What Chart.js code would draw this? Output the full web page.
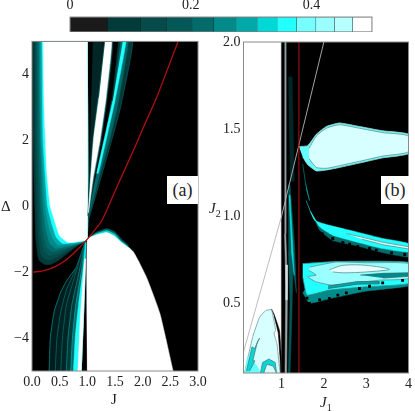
<!DOCTYPE html>
<html>
<head>
<meta charset="utf-8">
<script src="https://cdn.jsdelivr.net/npm/chart.js@4"></script>
<style>
  body { margin: 0; background: #fff; font-family: "Liberation Serif", serif; color: #222; }
  canvas { position: absolute; }
  .label { position: absolute; font-size: 15px; line-height: 16px; }
  .tag { position: absolute; background: #fff; font-size: 18px; text-align: center; line-height: 28px; width: 31px; height: 28px; top: 176px; }
  sub { font-size: 10px; line-height: 0; }
</style>
</head>
<body>
<canvas id="bar-canvas" style="left:60px;top:0"></canvas>
<canvas id="a-canvas" style="left:0;top:30px"></canvas>
<canvas id="b-canvas" style="left:212px;top:30px"></canvas>
<div class="label" style="left:1px;top:198px">Δ</div>
<div class="label" style="left:111px;top:391px">J</div>
<div class="label" style="left:209px;top:200px"><i>J</i><sub>2</sub></div>
<div class="label" style="left:320px;top:394px"><i>J</i><sub>1</sub></div>
<div class="tag" style="left:167px">(a)</div>
<div class="tag" style="left:381px;width:28px">(b)</div>
<script>
Chart.defaults.font.family = "'Liberation Serif', serif";

// Colour scale
const levelEdges = [0, 0.0625, 0.117, 0.16, 0.202, 0.238, 0.275, 0.31, 0.343, 0.375, 0.407, 0.438, 0.468, 0.5];
const levelColors = ["#1a1a1a", "#033a3a", "#064a4a", "#055858", "#046b6b", "#018a8a", "#00a8a8", "#00d8d8", "#22ffff", "#77ffff", "#99ffff", "#b8ffff", "#ffffff"];
const barTicks = [0, 0.2, 0.4];

// Tick labels
const jTicks = [0, 0.5, 1, 1.5, 2, 2.5, 3];
const deltaTicks = [-4, -2, 0, 2, 4];
const j1Ticks = [1, 2, 3, 4];
const j2Ticks = [0.5, 1, 1.5, 2];

// Panel (a): contours of the left band, outer to inner, [J, Delta]
const bandA1 = [[0.01,5],[0.02,2],[0.05,0],[0.07,-1],[0.12,-1.62],[0.22,-1.76],[0.35,-1.76],[0.5,-1.62],[0.65,-1.42],[0.82,-1.2],[1,-1],[1,5]];
const bandA2 = [[0.05,5],[0.06,2],[0.09,0],[0.12,-1],[0.17,-1.5],[0.27,-1.63],[0.4,-1.6],[0.55,-1.46],[0.7,-1.32],[0.85,-1.16],[1,-1],[1,5]];
const bandA3 = [[0.08,5],[0.09,2],[0.13,0],[0.16,-0.9],[0.22,-1.38],[0.32,-1.5],[0.45,-1.46],[0.6,-1.34],[0.75,-1.22],[0.88,-1.12],[1,-1],[1,5]];
const bandA4 = [[0.1,5],[0.12,2],[0.16,0],[0.2,-0.8],[0.27,-1.26],[0.37,-1.38],[0.5,-1.34],[0.65,-1.26],[0.8,-1.17],[1,-1],[1,5]];
const bandA5 = [[0.13,5],[0.15,2],[0.2,0],[0.25,-0.7],[0.32,-1.12],[0.42,-1.28],[0.55,-1.25],[0.7,-1.2],[0.85,-1.13],[1,-1],[1,5]];
const bandA6 = [[0.15,5],[0.17,2],[0.24,0],[0.3,-0.6],[0.38,-1.0],[0.47,-1.18],[0.6,-1.17],[0.75,-1.15],[0.88,-1.1],[1,-1],[1,5]];
const bandA7 = [[0.18,5],[0.2,2],[0.28,0],[0.36,-0.55],[0.44,-0.95],[0.55,-1.13],[0.7,-1.12],[0.85,-1.08],[1,-1],[1,5]];
const whiteA = [[0.2,5],[0.22,3],[0.27,1],[0.33,0],[0.42,-0.5],[0.5,-0.9],[0.65,-1.1],[0.85,-1.07],[1,-1],[1,5]];

// Panel (a): fan above J = 1
const wedgeDark = [[1.1,5],[1.28,5],[1.05,1],[1.01,-0.3]];
const wedgeOuter = [[1.56,5],[1.82,5],[1.6,3],[1.44,2],[1.2,0.6],[1.02,-0.4],[1.12,0.6],[1.32,2],[1.44,3.2]];
const wedgeMid = [[1.6,5],[1.74,5],[1.54,3],[1.4,2],[1.2,0.8],[1.03,-0.3],[1.15,0.8],[1.33,2],[1.46,3.2]];
const wedgeCyan = [[1.64,5],[1.7,5],[1.5,3.2],[1.38,2.3],[1.2,1],[1.17,1],[1.34,2.3],[1.46,3.2]];
const wedgeHalo = [[1.3,5],[1.46,5],[1.36,3.3],[1.25,2],[1.12,0.8],[1.02,-0.3],[1.04,0.6],[1.1,2],[1.19,3.3]];
const wedgeWhite = [[1.32,5],[1.44,5],[1.34,3.3],[1.23,2],[1.1,0.8],[1.02,-0.2],[1.05,0.6],[1.11,2],[1.21,3.3]];

// Panel (a): fan below J = 1
const fanA1 = [[0.31,-5],[0.33,-4],[0.4,-3.2],[0.52,-2.6],[0.63,-2.25],[0.82,-1.8],[0.97,-1.1],[0.89,-5]];
const fanA2 = [[0.42,-5],[0.45,-4],[0.52,-3.2],[0.62,-2.55],[0.78,-1.95],[0.97,-1.1],[0.89,-5]];
const fanA3 = [[0.52,-5],[0.55,-4],[0.62,-3],[0.76,-2.2],[0.97,-1.1],[0.89,-5]];
const fanA4 = [[0.62,-5],[0.65,-4],[0.72,-3],[0.85,-2],[0.97,-1.1],[0.89,-5]];
const fanTeal = [[0.7,-5],[0.73,-4],[0.79,-3],[0.9,-1.9],[0.97,-1.1],[0.89,-5]];
const fanCyan = [[0.75,-5],[0.78,-4],[0.84,-3],[0.93,-1.8],[0.97,-1.1],[0.93,-3],[0.89,-5]];
const fanWhite = [[0.83,-5],[0.87,-3.5],[0.95,-1.6],[0.97,-1.6],[0.93,-3.5],[0.89,-5]];

// Panel (a): white dome below the red curve
const domeHalo = [[1,-1],[1.15,-0.8],[1.35,-0.68],[1.5,-0.78],[1.62,-1.0],[1.75,-1.2],[1.6,-1.2],[1,-1.2]];
const domeCyan = [[1,-1],[1.15,-0.84],[1.35,-0.74],[1.5,-0.85],[1.6,-1.04],[1.78,-1.3],[1.6,-1.3],[1,-1.3]];
const domeWhite = [[1,-5],[1,-1],[1.15,-0.88],[1.35,-0.8],[1.5,-0.92],[1.6,-1.08],[1.83,-1.38],[2.07,-2.16],[2.31,-3.25],[2.55,-5]];
const redCurve = [[0.02,-2],[0.2,-1.96],[0.4,-1.85],[0.6,-1.65],[0.8,-1.35],[1,-1],[1.12,-0.75],[1.26,-0.44],[1.53,0.57],[1.83,1.68],[2.01,2.38],[2.25,3.29],[2.64,5]];

// Panel (b): left white area and lens, [J1, J2]
const whiteB = [[0.1,2],[0.98,2],[0.98,0.1],[0.1,0.1]];
const lensBlack = [[0.76,0.468],[0.82,0.44],[0.95,0.345],[0.995,0.19],[1,0.1],[0.98,0.1],[0.96,0.2],[0.92,0.33],[0.82,0.43]];
const lensPale = [[0.125,0.1],[0.32,0.31],[0.48,0.42],[0.62,0.458],[0.76,0.464],[0.795,0.43],[0.86,0.345],[0.82,0.327],[0.89,0.27],[0.95,0.13],[0.97,0.1]];
const lensCyan = [[0.13,0.1],[0.2,0.2],[0.42,0.14],[0.5,0.1]];
const lensStreakA = [[0.17,0.11],[0.3,0.25],[0.36,0.24],[0.48,0.3],[0.43,0.28],[0.32,0.17],[0.37,0.17],[0.24,0.11]];
const lensStreakB = [[0.5,0.1],[0.55,0.16],[0.7,0.18],[0.85,0.16],[0.88,0.1],[0.8,0.14],[0.65,0.15],[0.58,0.1]];

// Panel (b): streaks around J1 = 1
const stripGrey = [[1.07,2],[1.1,2],[1.1,0.9],[1.14,0.6],[1.12,0.1],[1.08,0.1],[1.1,0.6],[1.07,0.9]];
const stripWhite = [[1.09,0.72],[1.14,0.72],[1.13,0.52],[1.09,0.52]];
const stripTeal = [[1.16,1.18],[1.2,1.18],[1.31,0.82],[1.35,0.56],[1.27,0.7],[1.24,0.4],[1.2,0.1],[1.16,0.1],[1.2,0.5],[1.16,0.8]];
const stripCyan = [[1.17,1.12],[1.2,1.12],[1.26,0.85],[1.3,0.66],[1.23,0.8]];
const stripDark = [[1.16,1.8],[1.25,1.8],[1.3,1.2],[1.2,1.2]];

// Panel (b): top blob
const blobCyan = [[1.41,1.4],[1.62,1.405],[1.82,1.47],[2.06,1.515],[2.37,1.535],[2.84,1.515],[3.39,1.49],[4,1.47],[4,1.36],[3.39,1.335],[2.84,1.305],[2.37,1.28],[2.06,1.265],[1.82,1.26],[1.62,1.295],[1.5,1.34]];
const blobPale = [[1.65,1.39],[1.82,1.46],[2.06,1.505],[2.37,1.525],[2.84,1.505],[3.39,1.48],[4,1.46],[4,1.37],[3.39,1.345],[2.84,1.315],[2.37,1.29],[2.06,1.275],[1.82,1.28],[1.65,1.33]];
const thinTail = [[1.5,1.3],[1.56,1.2],[1.66,1.09],[1.58,1.16]];

// Panel (b): upper and lower bands
const upperTeal = [[1.7,1.02],[1.9,0.92],[2.21,0.86],[2.77,0.83],[3.4,0.79],[4,0.765],[4,0.8],[3.4,0.82],[2.77,0.86],[2.21,0.9],[1.9,0.95]];
const upperCyan = [[1.58,1.09],[1.78,0.977],[2.13,0.948],[2.77,0.91],[3.4,0.872],[4,0.843],[4,0.795],[3.4,0.814],[2.77,0.852],[2.21,0.891],[1.9,0.939],[1.68,1.03]];
const upperLine = [[2.53,0.9],[2.9,0.88],[3.4,0.85],[4,0.825],[4,0.812],[3.4,0.836],[2.9,0.868]];
const lowerDark = [[1.5,0.56],[1.66,0.5],[2.2,0.53],[3,0.57],[4,0.6],[4,0.66],[2.5,0.62],[1.6,0.6]];
const lowerCyan = [[1.5,0.728],[2.29,0.74],[4,0.735],[4,0.614],[3,0.595],[2.13,0.576],[1.6,0.547],[1.5,0.652]];
const lowerLight = [[1.66,0.708],[2.29,0.737],[3,0.733],[4,0.728],[4,0.643],[3.32,0.633],[2.21,0.604],[1.82,0.623],[1.62,0.652],[1.82,0.662],[1.64,0.69]];
const lowerPale = [[2.13,0.693],[2.45,0.718],[3,0.718],[3.55,0.695],[3,0.68],[2.45,0.675],[2.21,0.68]];
const lowerStreak = [[2.86,0.662],[3.4,0.672],[4,0.675],[4,0.655],[3.4,0.645]];
const lowerStreakB = [[2.1,0.6],[2.8,0.625],[3.3,0.625],[3.3,0.612],[2.8,0.61],[2.1,0.585]];
const speckle = [[1.96,0.9],[2.21,0.872],[2.45,0.85],[2.61,0.84],[2.8,0.826],[3.08,0.815],[3.24,0.805],[3.6,0.79],[3.91,0.78],[1.6,0.53],[1.66,0.5],[1.9,0.52],[2.13,0.528],[2.33,0.547],[2.53,0.56],[2.84,0.585],[3.08,0.598],[3.39,0.617],[3.86,0.632]];
const diagonal = [[0.1,0.22],[1,1],[2,2]];
const redVertical = [[1.41,0.1],[1.41,2]];

function xy(points) {
  return points.map((p) => ({ x: p[0], y: p[1] }));
}

// Closed filled contour
function area(points, color, edge, tension) {
  return {
    data: xy(points),
    showLine: true,
    fill: "shape",
    backgroundColor: color,
    borderColor: edge || color,
    borderWidth: edge ? 0.8 : 0.5,
    pointRadius: 0,
    tension: tension === undefined ? 0.15 : tension,
  };
}

function curve(points, color, width, tension) {
  return {
    data: xy(points),
    showLine: true,
    fill: false,
    borderColor: color,
    borderWidth: width,
    pointRadius: 0,
    tension: tension,
  };
}

// Black plot background and the grey frame
const framePlugin = {
  id: "frame",
  beforeDatasetsDraw(chart, args, opts) {
    const c = chart.chartArea;
    if (opts.background) {
      chart.ctx.fillStyle = opts.background;
      chart.ctx.fillRect(c.left, c.top, c.width, c.height);
    }
  },
  afterDraw(chart) {
    const c = chart.chartArea;
    chart.ctx.strokeStyle = "#8a8a8a";
    chart.ctx.lineWidth = 1;
    chart.ctx.strokeRect(c.left, c.top, c.width, c.height);
  },
};

function panelScale(min, max, ticks, format, size, isY) {
  const scale = {
    type: "linear",
    min: min,
    max: max,
    grid: { display: false, drawTicks: false },
    border: { display: false },
    afterBuildTicks: (s) => { s.ticks = ticks.map((v) => ({ value: v })); },
    ticks: {
      autoSkip: false,
      maxRotation: 0,
      padding: 3,
      color: "#222",
      font: { size: 14 },
      callback: format,
    },
  };
  if (isY) scale.afterFit = (s) => { s.width = size; };
  else scale.afterFit = (s) => { s.height = size; };
  return scale;
}

function makePanel(id, w, h, padding, layers, xScale, yScale) {
  const canvas = document.getElementById(id);
  canvas.width = w;
  canvas.height = h;
  // the first dataset is painted last, so flip the back-to-front list
  return new Chart(canvas, {
    type: "scatter",
    data: { datasets: layers.slice().reverse() },
    plugins: [framePlugin],
    options: {
      responsive: false,
      animation: false,
      layout: { padding: padding },
      scales: { x: xScale, y: yScale },
      plugins: {
        legend: { display: false },
        tooltip: { enabled: false },
        frame: { background: "#000" },
      },
    },
  });
}

// Colour bar
const barCanvas = document.getElementById("bar-canvas");
barCanvas.width = 330;
barCanvas.height = 32;
new Chart(barCanvas, {
  type: "bar",
  data: {
    labels: [""],
    datasets: levelColors.map((color, i) => ({
      data: [[levelEdges[i], levelEdges[i + 1]]],
      backgroundColor: color,
      borderColor: "#0b2a2a",
      borderWidth: 0.5,
      grouped: false,
      barPercentage: 1,
      categoryPercentage: 1,
    })),
  },
  plugins: [framePlugin],
  options: {
    indexAxis: "y",
    responsive: false,
    animation: false,
    layout: { padding: { left: 10, right: 18 } },
    scales: {
      x: Object.assign(panelScale(0, 0.5, barTicks, (v) => (v === 0 ? "0" : v.toFixed(1)), 17, false), { position: "top" }),
      y: { display: false },
    },
    plugins: { legend: { display: false }, tooltip: { enabled: false } },
  },
});

const layersA = [
  area(bandA1, levelColors[1]), area(bandA2, levelColors[2]), area(bandA3, levelColors[3]),
  area(bandA4, levelColors[4]), area(bandA5, levelColors[5]), area(bandA6, levelColors[6]),
  area(bandA7, levelColors[8]), area(whiteA, "#fff"),
  area(wedgeDark, "#022626"), area(wedgeOuter, levelColors[1], levelColors[3]), area(wedgeMid, levelColors[4]),
  area(wedgeCyan, levelColors[8]), area(wedgeHalo, levelColors[3]), area(wedgeWhite, "#fff"),
  area(fanA1, "#011c1c", levelColors[5]), area(fanA2, "#012222", levelColors[4]), area(fanA3, "#012626", levelColors[4]),
  area(fanA4, levelColors[1], levelColors[5]), area(fanTeal, levelColors[4], levelColors[6]), area(fanCyan, levelColors[8]), area(fanWhite, "#fff"),
  area(domeHalo, levelColors[3]), area(domeCyan, levelColors[7]), area(domeWhite, "#fff"),
  curve(redCurve, "#b01010", 1.3, 0.3),
];

const layersB = [
  area(whiteB, "#fff", null, 0),
  area(lensPale, "#d8ffff", "#6f9a9a", 0.1), area(lensBlack, "#000", null, 0.1), area(lensCyan, "#66ffff", null, 0),
  area(lensStreakA, levelColors[7], "#4d8080", 0), area(lensStreakB, levelColors[7], "#4d8080", 0),
  area(stripDark, "#022626", null, 0), area(stripGrey, "#9aa8a8", null, 0), area(stripWhite, "#d5dede", null, 0),
  area(stripTeal, levelColors[3], null, 0), area(stripCyan, levelColors[7], null, 0),
  area(thinTail, levelColors[6], null, 0),
  area(blobCyan, "#66ffff", "#9fdcdc", 0.15), area(blobPale, "#d8ffff", "#5f8f8f", 0.2),
  area(upperTeal, levelColors[4], null, 0.1), area(upperCyan, levelColors[8], null, 0.15), area(upperLine, "#d8ffff", "#5f8f8f", 0),
  area(lowerDark, levelColors[5], null, 0.1), area(lowerCyan, levelColors[8], "#3f8f8f", 0.1),
  area(lowerLight, "#99ffff", "#5f8f8f", 0.15), area(lowerPale, "#e8ffff", "#5f8f8f", 0.3),
  area(lowerStreak, levelColors[5], "#2f6f6f", 0), area(lowerStreakB, levelColors[6], "#2f6f6f", 0),
  { data: xy(speckle), pointStyle: "rect", pointRadius: 2, pointBackgroundColor: "#000", pointBorderWidth: 0 },
  curve(diagonal, "#b5b5b5", 0.9, 0),
  curve(redVertical, "#b01010", 1, 0),
];

makePanel("a-canvas", 210, 381, { top: 10, right: 12 }, layersA,
  panelScale(0, 3, jTicks, (v) => v.toFixed(1), 40, false),
  panelScale(-5, 5, deltaTicks, (v) => String(v).replace("-", "\u2212"), 32, true));

makePanel("b-canvas", 203, 381, { top: 12, right: 6 }, layersB,
  panelScale(0.1, 4, j1Ticks, (v) => String(v), 38, false),
  panelScale(0.1, 2, j2Ticks, (v) => v.toFixed(1), 31.5, true));
</script>
</body>
</html>
